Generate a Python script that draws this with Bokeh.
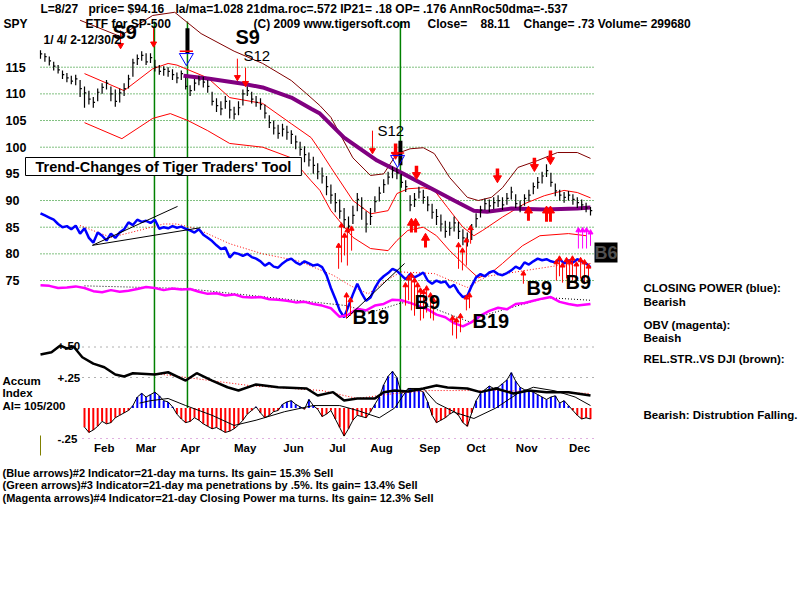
from bokeh.plotting import figure
from bokeh.models import Range1d, Label
from bokeh.embed import file_html
from bokeh.resources import INLINE
from bokeh.core.properties import value

FONT = "Liberation Sans"

# ------------------------------------------------------------------ data
bar_idx = list(range(0, 252, 2))
close = [117.5, 117.0, 116.2, 115.2, 114.5, 113.6, 113.0, 112.4, 112.8, 111.0,
         110.2, 109.0, 108.4, 110.3, 111.2, 112.0, 110.0, 108.6, 110.2, 111.0,
         112.8, 115.8, 116.6, 117.2, 116.0, 116.8, 115.0, 114.2, 114.6, 114.2,
         113.6, 113.0, 113.8, 111.4, 110.6, 112.0, 112.6, 112.2, 111.4, 108.6,
         107.8, 107.2, 108.6, 107.0, 106.2, 107.4, 110.0, 110.6, 109.0, 108.4,
         108.0, 106.4, 104.6, 103.6, 102.6, 103.4, 102.8, 102.4, 101.0, 99.6,
         98.6, 97.6, 96.6, 95.4, 94.6, 92.6, 91.0, 89.6, 88.0, 86.4,
         85.2, 87.2, 90.2, 88.6, 85.6, 87.0, 89.8, 91.4, 93.0, 94.4,
         95.6, 95.2, 93.4, 92.6, 89.2, 90.2, 91.6, 90.6, 89.2, 87.8,
         87.0, 85.6, 84.2, 84.8, 85.8, 84.2, 83.0, 82.6, 84.6, 86.6,
         88.2, 89.4, 89.0, 89.6, 90.0, 89.2, 90.4, 91.6, 89.4, 89.0,
         90.4, 91.0, 92.6, 93.4, 94.6, 95.6, 93.4, 91.8, 91.0, 90.6,
         91.0, 90.2, 89.6, 89.2, 88.6, 88.1]
high = [118.2, 117.6, 117.0, 116.0, 115.4, 114.4, 113.9, 113.4, 113.6, 112.6,
        111.4, 110.6, 109.4, 111.0, 112.0, 112.6, 111.4, 110.8, 111.0, 112.0,
        113.6, 116.6, 117.4, 118.0, 117.6, 117.6, 116.4, 115.4, 115.2, 115.0,
        114.6, 114.0, 114.4, 113.0, 111.6, 112.8, 113.4, 113.2, 112.6, 110.4,
        109.2, 108.6, 109.6, 108.8, 107.6, 108.6, 110.8, 111.4, 110.4, 109.6,
        109.2, 108.0, 106.0, 105.0, 104.2, 104.4, 104.0, 103.2, 102.2, 101.0,
        100.2, 99.0, 98.2, 97.0, 96.2, 94.6, 93.0, 91.4, 90.2, 88.6,
        87.0, 89.0, 91.4, 90.6, 88.0, 88.6, 90.8, 92.6, 94.0, 95.4,
        96.4, 96.2, 95.0, 93.8, 91.0, 91.4, 92.6, 92.0, 90.8, 89.4,
        88.4, 87.4, 86.2, 86.0, 87.0, 86.0, 84.6, 84.0, 85.6, 87.6,
        89.0, 90.4, 90.2, 90.6, 91.0, 90.6, 91.4, 92.6, 91.2, 90.0,
        91.2, 92.0, 93.4, 94.4, 95.4, 96.8, 95.2, 93.2, 92.0, 91.6,
        91.8, 91.2, 90.6, 90.2, 89.6, 88.8]
low = [116.6, 116.0, 115.3, 114.4, 113.8, 112.8, 112.2, 111.8, 111.6, 109.4,
       107.4, 108.0, 107.4, 108.6, 110.0, 110.8, 108.6, 107.6, 108.4, 109.6,
       111.0, 113.2, 115.4, 116.2, 115.4, 115.8, 114.2, 113.6, 113.4, 113.2,
       112.6, 112.0, 112.6, 110.8, 109.6, 110.6, 111.6, 111.2, 110.2, 107.8,
       106.6, 106.0, 107.2, 105.4, 105.2, 106.0, 107.8, 109.6, 108.2, 107.6,
       107.0, 105.4, 103.6, 102.4, 101.6, 102.0, 101.4, 100.6, 99.6, 98.4,
       97.2, 96.4, 95.0, 94.0, 93.2, 91.0, 89.4, 87.8, 86.6, 84.8,
       84.0, 85.6, 88.0, 86.4, 84.0, 85.4, 87.8, 89.8, 91.4, 93.0,
       94.2, 94.0, 92.4, 91.6, 88.0, 88.8, 90.4, 89.4, 88.0, 86.6,
       85.4, 84.2, 83.0, 83.4, 84.2, 82.8, 81.6, 81.4, 82.6, 85.0,
       86.8, 88.2, 87.8, 88.4, 88.8, 88.2, 89.2, 90.2, 88.6, 87.8,
       89.0, 89.8, 91.2, 92.2, 93.2, 94.4, 92.6, 90.8, 90.0, 89.6,
       90.0, 89.2, 88.6, 88.2, 87.8, 87.2]

closing_power = [87.6, 87.2, 86.8, 86.4, 85.6, 85.0, 85.2, 84.6, 85.3, 83.8,
                 84.8, 83.0, 82.1, 84.0, 83.4, 82.5, 83.8, 83.0, 84.0, 84.6,
                 85.9, 85.4, 86.4, 86.0, 86.2, 85.8, 86.4, 84.7, 85.0, 84.8,
                 85.2, 84.9, 85.1, 84.7, 84.4, 84.0, 84.6, 83.6, 83.0, 82.4,
                 81.6, 80.9, 81.2, 79.3, 80.2, 80.0, 79.6, 80.0, 79.4, 79.1,
                 78.6, 77.8, 78.3, 77.6, 77.4, 78.2, 78.8, 79.1, 78.4, 78.0,
                 78.6, 78.2, 77.8, 78.0, 77.5, 76.0, 73.6, 71.6, 69.4, 68.1,
                 70.2, 72.4, 74.4, 72.6, 71.2, 71.8, 73.6, 75.0, 75.8, 76.4,
                 77.2, 76.8, 76.0, 75.2, 76.2, 75.6, 76.0, 76.5, 75.0, 74.4,
                 75.0, 74.6, 74.8, 73.7, 74.2, 72.8, 71.9, 72.1, 74.0, 75.6,
                 76.2, 75.8, 76.5, 76.8, 76.2, 76.0, 76.4, 76.9, 77.6, 77.2,
                 78.4, 78.0, 78.6, 79.1, 78.8, 79.0, 78.6, 78.4, 79.0, 78.2,
                 78.8, 78.4, 79.0, 78.6, 78.2, 77.5]
cp_ma_idx = [18, 32, 41, 56, 62, 71, 86, 101, 117, 133, 141, 149, 157, 164, 179, 194, 203, 216, 235, 250]
cp_ma = [85.3, 83.1, 84.0, 85.6, 85.6, 84.7, 81.9, 80.0, 78.7, 76.0, 74.0, 72.5, 75.0, 76.6, 76.3, 73.7, 75.8, 76.6, 77.8, 78.2]

obv_idx = list(range(0, 249, 4)) + [250]
obv = [74.1, 74.0, 73.6, 73.7, 73.9, 73.6, 73.0, 72.8, 73.2, 72.9,
       73.1, 73.4, 73.8, 73.6, 73.2, 73.5, 73.3, 73.4, 72.9, 72.5,
       72.6, 72.2, 72.4, 71.9, 71.8, 71.9, 71.5, 71.4, 71.2, 70.9,
       71.0, 70.6, 70.3, 69.8, 68.2, 68.6, 69.7, 69.4, 70.3, 70.6,
       71.4, 71.3, 70.8, 70.2, 69.6, 68.6, 68.1, 67.0, 66.4, 67.2,
       68.4, 69.3, 69.9, 69.6, 70.6, 70.8, 71.2, 71.6, 71.9, 71.0,
       70.6, 70.3, 70.5, 70.6]
obv_ma_idx = [20, 66, 139, 150, 164, 172, 196, 201, 230, 250]
obv_ma = [74.0, 73.5, 70.3, 69.0, 70.8, 70.8, 67.1, 68.4, 71.8, 71.3]

ma21_idx = [20, 38, 51, 58, 62, 76, 86, 101, 114, 123, 127, 132, 142, 150, 158, 162, 167, 174,
            179, 185, 192, 197, 201, 210, 220, 229, 238, 244, 250]
ma21 = [113.8, 110.6, 114.7, 115.7, 115.4, 113.0, 109.3, 108.2, 104.4, 101.8, 99.4, 96.2, 90.0, 87.5,
        88.1, 91.3, 92.2, 92.4, 91.9, 88.7, 85.0, 83.4, 84.4, 86.9, 89.4, 90.9, 91.9, 91.5, 90.5]
lower_idx = [20, 37, 51, 59, 67, 76, 86, 101, 114, 123, 127, 132, 142, 150, 158, 162, 167, 174,
             180, 186, 194, 199, 205, 210, 219, 227, 240, 248]
lower_band = [104.6, 101.6, 105.4, 106.3, 105.0, 103.1, 100.7, 100.0, 98.0, 93.7, 91.9, 88.1, 83.1,
              81.0, 80.6, 82.5, 84.4, 85.0, 83.4, 80.6, 77.4, 75.5, 76.5, 78.2, 81.5, 83.4, 83.8, 83.4]
upper_idx = [18, 36, 51, 61, 73, 88, 101, 114, 121, 127, 132, 142, 150, 156, 162, 168, 174, 179,
             186, 194, 199, 205, 210, 217, 226, 235, 244, 250]
upper_band = [123.8, 120.8, 124.7, 125.3, 121.3, 118.0, 115.7, 112.5, 110.0, 107.8, 105.6, 98.0,
              94.7, 95.0, 98.8, 99.7, 99.9, 98.8, 94.3, 90.6, 90.0, 90.6, 92.4, 96.2, 97.5, 99.0, 99.0, 97.9]
ma50_idx = [65, 76, 92, 101, 114, 123, 127, 138, 153, 165, 177, 188, 197, 203, 214, 229, 244, 250]
ma50 = [113.4, 112.9, 111.9, 111.2, 109.3, 107.2, 106.3, 101.8, 97.5, 95.0, 92.4, 90.0, 88.1, 87.9,
        88.5, 88.3, 88.5, 88.7]

# accumulation panel
rs_idx = [0, 5, 9, 12, 15, 19, 24, 29, 34, 38, 42, 52, 58, 66, 71, 78, 85, 90, 98, 108, 121, 126,
          133, 138, 144, 152, 156, 161, 167, 174, 180, 185, 194, 200, 207, 215, 222, 230, 240, 250]
rs = [.438, .457, .512, .488, .504, .416, .364, .334, .275, .258, .285, .275, .293, .225, .285, .225,
      .170, .143, .193, .170, .160, .102, .130, .061, .078, .078, .130, .143, .135, .160, .184, .168,
      .160, .130, .160, .119, .143, .130, .130, .102]
rs_ma_idx = [52, 95, 128, 144, 161, 177, 210, 250]
rs_ma = [.283, .184, .143, .078, .119, .143, .143, .119]

hist_idx = list(range(20, 251, 2))
accum = [-.157, -.20, -.18, -.15, -.11, -.13, -.12, -.08, -.06, -.04,
         -.02, .02, .09, .12, .09, .11, .13, .10, .06, .05,
         .01, -.05, -.09, -.12, -.11, -.08, -.10, -.13, -.15, -.17,
         -.16, -.18, -.20, -.19, -.17, -.14, -.10, -.05, -.02, .01,
         -.04, -.08, -.06, -.03, -.02, .03, .05, .06, .03, .01,
         -.01, .07, .02, -.01, -.07, -.05, -.02, -.09, -.16, -.23,
         -.17, -.10, -.06, -.07, -.08, -.03, .03, .09, .19, .26,
         .30, .25, .12, .14, .16, .14, .15, .13, .05, -.06,
         -.12, -.10, -.08, -.05, -.03, -.06, -.12, -.15, -.04, .06,
         .12, .15, .18, .16, .17, .20, .23, .29, .22, .17,
         .15, .14, .13, .11, .09, .07, .09, .10, .04, .06,
         .02, -.02, -.06, -.09, -.08, -.09]
accum_ma_idx = [45, 50, 58, 66, 78, 88, 98, 111, 124, 136, 144, 154, 161, 167, 174, 180, 189, 197,
                207, 217, 224, 234, 243, 250]
accum_ma = [.04, .06, .078, .02, -.06, -.143, -.10, -.03, .02, .02, -.02, -.08, .0, .16, .16, .04,
            -.04, -.086, .0, .12, .17, .14, .09, .02]

month_ticks = [29, 48, 68, 93, 115, 135, 155, 177, 198, 221, 245]
month_labels = ["Feb", "Mar", "Apr", "May", "Jun", "Jul", "Aug", "Sep", "Oct", "Nov", "Dec"]
price_ticks = [75, 80, 85, 90, 95, 100, 105, 110, 115]
acc_levels = [0.50, 0.25]
acc_low_level = -0.25

# signals (trading-day index, price)
signal_idx = [51.8, 66.8, 163.6]
thin_dn_x = [36.4, 51.4, 89.5, 93.2, 150.9]
thin_dn_from = [121.9, 122.4, 116.6, 114.9, 103.1]
thin_dn_to = [119.1, 119.4, 113.1, 112.0, 99.4]
thick_dn_x = [161.4, 170.9, 207.7, 224.5, 231.8]
thick_dn_from = [100.7, 96.5, 96.0, 98.0, 99.4]
thick_dn_to = [98.6, 94.8, 94.2, 96.3, 97.6]
thick_up_x = [168.6, 170.5, 175.0, 221.8, 230.0, 231.8]
thick_up_from = [84.0, 84.0, 81.2, 86.2, 86.0, 86.0]
thick_up_to = [85.8, 85.8, 83.0, 88.1, 88.1, 88.1]
up_x = [135.5, 136.8, 138.2, 139.5, 141.4, 139.1, 140.9,
        165.9, 167.3, 168.6, 170.0, 171.4, 172.7, 174.1, 175.5, 177.3, 178.6,
        187.3, 189.1, 190.9, 190.0, 191.8, 193.6, 195.5, 193.6, 195.0, 219.5,
        234.5, 235.9, 237.3, 239.1, 240.5, 241.8, 243.6, 245.5, 247.3, 249.1]
up_from = [77.2, 78.4, 79.7, 77.8, 80.6, 67.9, 68.4,
           70.3, 71.3, 69.4, 68.4, 70.3, 67.5, 67.9, 69.0, 67.9, 67.5,
           64.7, 64.1, 65.3, 77.2, 76.9, 77.8, 81.9, 69.4, 69.8, 74.4,
           75.0, 75.8, 74.6, 75.4, 74.1, 75.0, 74.6, 75.4, 74.3, 75.0]
up_to = [81.5, 85.3, 83.4, 84.4, 84.7, 72.2, 71.3,
         74.1, 75.4, 75.9, 75.0, 74.1, 73.1, 72.8, 73.5, 72.2, 71.3,
         67.9, 67.5, 68.3, 81.6, 80.6, 82.5, 84.8, 71.8, 72.2, 76.3,
         78.4, 79.1, 77.8, 78.8, 78.4, 79.1, 78.0, 78.8, 78.4, 77.6]
mag_x = [244.5, 246.4, 248.2, 250.0]
mag_from = [81.0, 81.0, 81.0, 81.5]
mag_to = [84.4, 84.4, 84.4, 84.0]
black_sig_x = [66.8, 163.6]
black_sig_from = [122.3, 101.2]
black_sig_to = [117.6, 96.6]
tri_x = [66.3, 162.3]
tri_y = [116.8, 97.7]
tri_bar_y = [118.0, 98.9]
trend_x0 = [23.6, 23.6, 139.1]
trend_y0 = [81.6, 81.6, 67.9]
trend_x1 = [62.3, 72.7, 165.5]
trend_y1 = [88.9, 84.9, 78.2]

# ------------------------------------------------------------------ figure
# the frame covers the whole 800x600 canvas; x = trading day, y = price (left), accum (extra)
X0, XPX = 40.0, 2.2           # pixel of day 0, pixels per day
P_REF, P_PY, PPX = 115.0, 66.7, 5.333   # price 115 at pixel row 66.7, pixels per point
A_ZERO, APX = 407.5, 122.0    # accum 0 at pixel row 407.5, pixels per unit


def ix(px):
    return (px - X0) / XPX


def py(row):
    return P_REF - (row - P_PY) / PPX


def ay(row):
    return (A_ZERO - row) / APX


p = figure(width=800, height=600, output_backend="svg", toolbar_location=None,
           x_range=Range1d(ix(0), ix(800)), y_range=Range1d(py(600), py(0)),
           x_axis_location=None, y_axis_location=None,
           min_border_left=0, min_border_right=0, min_border_top=0, min_border_bottom=0)
p.extra_y_ranges = {"acc": Range1d(ay(600), ay(0))}
p.outline_line_color = None
p.xgrid.visible = False
p.ygrid.visible = False
p.background_fill_color = "white"
p.border_fill_color = "white"

x_end = ix(593)

# price grid
p.segment(x0=[0] * len(price_ticks), y0=price_ticks, x1=[x_end] * len(price_ticks), y1=price_ticks,
          line_color="#008000", line_dash="1 2", line_width=1)
# accum grid
p.segment(x0=[ix(82)] * 2, y0=acc_levels, x1=[x_end] * 2, y1=acc_levels, line_color="#606060",
          line_dash="1 5", line_width=1, y_range_name="acc")
p.segment(x0=[ix(82)], y0=[acc_low_level], x1=[x_end], y1=[acc_low_level], line_color="#c060c0",
          line_dash="1 5", line_width=1, y_range_name="acc")
p.segment(x0=[0], y0=[ay(435)], x1=[0], y1=[ay(455)], line_color="#808000", line_width=1,
          y_range_name="acc")

# signal verticals
p.segment(x0=signal_idx, y0=[0.0] * 3, x1=signal_idx, y1=[ay(21)] * 3, line_color="#008000",
          line_width=1.5, y_range_name="acc")

# bands and moving averages
p.line(upper_idx, upper_band, line_color="#800000", line_width=1)
p.line(ma21_idx, ma21, line_color="#ff0000", line_width=1)
p.line(lower_idx, lower_band, line_color="#ff0000", line_width=1)
p.line(ma50_idx, ma50, line_color="#800080", line_width=4)

# price bars
p.segment(x0=bar_idx, y0=low, x1=bar_idx, y1=high, line_color="black", line_width=1.2)
p.segment(x0=bar_idx, y0=close, x1=[i + 0.8 for i in bar_idx], y1=close, line_color="black", line_width=1.2)

# closing power / OBV
p.line(cp_ma_idx, cp_ma, line_color="#ff0000", line_width=1, line_dash="1 2")
p.line(bar_idx, closing_power, line_color="#0000ff", line_width=2.5)
p.line(obv_ma_idx, obv_ma, line_color="black", line_width=1, line_dash="1 2")
p.line(obv_idx, obv, line_color="#ff00ff", line_width=2.5)
p.segment(x0=trend_x0, y0=trend_y0, x1=trend_x1, y1=trend_y1, line_color="black", line_width=1)

# arrows
p.segment(x0=thin_dn_x, y0=thin_dn_from, x1=thin_dn_x, y1=thin_dn_to, line_color="#ff0000", line_width=1)
p.scatter(x=thin_dn_x, y=thin_dn_to, marker="inverted_triangle", size=6, color="#ff0000")
p.segment(x0=thick_dn_x, y0=thick_dn_from, x1=thick_dn_x, y1=thick_dn_to, line_color="#ff0000", line_width=3.5)
p.scatter(x=thick_dn_x, y=thick_dn_to, marker="inverted_triangle", size=8, color="#ff0000")
p.segment(x0=thick_up_x, y0=thick_up_from, x1=thick_up_x, y1=thick_up_to, line_color="#ff0000", line_width=3)
p.scatter(x=thick_up_x, y=thick_up_to, marker="triangle", size=8, color="#ff0000")
p.segment(x0=up_x, y0=up_from, x1=up_x, y1=up_to, line_color="#ff0000", line_width=1)
p.scatter(x=up_x, y=up_to, marker="triangle", size=5, color="#ff0000")
p.segment(x0=mag_x, y0=mag_from, x1=mag_x, y1=mag_to, line_color="#ff00ff", line_width=1)
p.scatter(x=mag_x, y=mag_to, marker="triangle", size=5, color="#ff00ff")
p.segment(x0=black_sig_x, y0=black_sig_from, x1=black_sig_x, y1=black_sig_to, line_color="black", line_width=4)
p.scatter(x=tri_x, y=tri_y, marker="inverted_triangle", size=14, fill_color=None, line_color="#0000ff", line_width=1)
p.segment(x0=[t - 3 for t in tri_x], y0=tri_bar_y, x1=[t + 3 for t in tri_x], y1=tri_bar_y,
          line_color="#ff0000", line_width=1.5)

# accumulation panel
pos_x = [i for i, v in zip(hist_idx, accum) if v >= 0]
pos_v = [v for v in accum if v >= 0]
neg_x = [i for i, v in zip(hist_idx, accum) if v < 0]
neg_v = [v for v in accum if v < 0]
p.vbar(x=pos_x, top=pos_v, bottom=0, width=0.9, fill_color="#0000ff", line_color=None, y_range_name="acc")
p.vbar(x=neg_x, top=neg_v, bottom=0, width=0.9, fill_color="#ff0000", line_color=None, y_range_name="acc")
p.line(hist_idx, accum, line_color="black", line_width=1, y_range_name="acc")
p.line(accum_ma_idx, accum_ma, line_color="black", line_width=1, y_range_name="acc")
p.line(rs_ma_idx, rs_ma, line_color="#ff0000", line_width=1, line_dash="1 2", y_range_name="acc")
p.line(rs_idx, rs, line_color="black", line_width=2.5, y_range_name="acc")

# tick labels (price axis on the left, months along the bottom)
p.text(x=[ix(5)] * len(price_ticks), y=price_ticks, text=[str(t) for t in price_ticks],
       text_font=value(FONT), text_font_style="bold", text_font_size="12.5px",
       text_align="left", text_baseline="middle", text_color="black")
p.text(x=month_ticks, y=[ay(447)] * len(month_ticks), text=month_labels,
       text_font=value(FONT), text_font_style="bold", text_font_size="11.5px",
       text_align="center", text_baseline="middle", text_color="black", y_range_name="acc")


# ------------------------------------------------------------------ texts
def txt(s, px, row, size=11.5, bold=True, color="black", align="left", **kw):
    p.add_layout(Label(x=ix(px), y=py(row), text=s, text_font=FONT,
                       text_font_size=f"{size}px", text_font_style="bold" if bold else "normal",
                       text_color=color, text_align=align, text_baseline="middle", **kw))


txt("L=8/27", 40, 8, size=12)
txt("price= $94.16", 88, 8, size=12)
txt("la/ma=1.028 21dma.roc=.572 IP21= .18 OP= .176 AnnRoc50dma=-.537", 175, 8, size=12)
txt("SPY", 3, 23, size=12)
txt("ETF for SP-500", 85, 23, size=12)
txt("(C) 2009 www.tigersoft.com", 253, 23, size=12)
txt("Close=", 427, 23, size=12)
txt("88.11", 480, 23, size=12)
txt("Change= .73 Volume= 299680", 523, 23, size=12)
txt("1/ 4/ 2-12/30/2", 43, 39, size=12)

txt("S9", 112, 31, size=20)
txt("S9", 235, 36, size=20)
txt("S12", 243, 55, size=15, bold=False)
txt("S12", 377, 130, size=15, bold=False)
txt("B19", 352, 316, size=20)
txt("B9", 414, 301, size=20)
txt("B19", 472, 320, size=20)
txt("B9", 526, 287, size=20)
txt("B9", 565, 281, size=20)
txt("B6", 594, 252, size=18, color="#505050", background_fill_color="black")

txt("Trend-Changes of Tiger Traders' Tool", 25, 166, size=14.5, background_fill_color="white",
    border_line_color="black", border_line_width=1, padding=(10, 1))

txt("CLOSING POWER (blue):", 643, 287)
txt("Bearish", 643, 301)
txt("OBV (magenta):", 643, 324)
txt("Beaish", 643, 337)
txt("REL.STR..VS DJI (brown):", 643, 358)
txt("Bearish: Distrubtion Falling.", 643, 414)

txt("Accum", 2, 380)
txt("Index", 2, 392)
txt("AI= 105/200", 2, 405)
txt("+.50", 57, 345)
txt("+.25", 57, 377)
txt("-.25", 57, 438)

txt("(Blue arrows)#2 Indicator=21-day ma turns. Its gain= 15.3% Sell", 2, 472, size=11)
txt("(Green arrows)#3 Indicator=21-day ma penetrations by .5%. Its gain= 13.4% Sell", 2, 484.5, size=11)
txt("(Magenta arrows)#4 Indicator=21-day Closing Power ma turns. Its gain= 12.3% Sell", 2, 497, size=11)

open("out.html", "w").write(file_html(p, INLINE))
